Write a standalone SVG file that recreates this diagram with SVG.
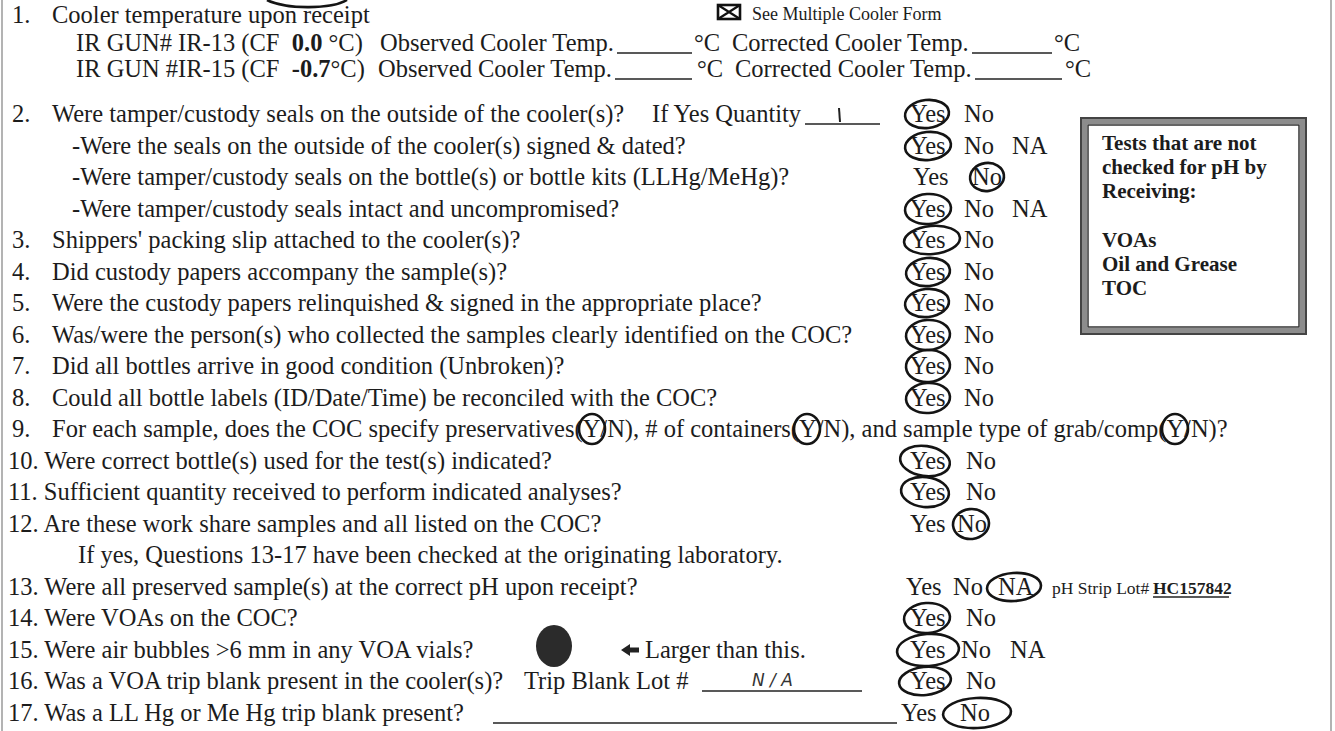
<svg xmlns="http://www.w3.org/2000/svg" width="1335" height="731" viewBox="0 0 1335 731">
<style>
text{font-family:"Liberation Serif","Times New Roman",serif;font-size:24.5px;fill:#1c1c1c;white-space:pre}
.b{font-weight:bold}
.sm{font-size:17.5px}
.note{font-size:18px}
.bx{font-size:21px;font-weight:bold}
.hw{font-family:"DejaVu Sans",sans-serif;font-size:17px;font-style:italic;fill:#333}
.c{fill:none;stroke:#141414;stroke-width:2.6}
.ul{stroke:#222;stroke-width:1.3;fill:none}
.bd{stroke:#9a9a9a;stroke-width:1.5}
</style>
<rect width="1335" height="731" fill="#fff"/>
<line class="bd" x1="2" y1="0" x2="2" y2="731"/>
<line class="bd" x1="1331" y1="0" x2="1331" y2="731"/>
<path class="c" d="M267,0 C285,9 330,10 347,0"/>

<g id="q1">
<text x="12" y="23">1.</text><text x="52" y="23">Cooler temperature upon receipt</text>
<rect x="718" y="5" width="22" height="14" fill="none" stroke="#111" stroke-width="2.6"/>
<path d="M718,5 L740,19 M740,5 L718,19" stroke="#111" stroke-width="2.2"/>
<text class="note" x="752" y="20">See Multiple Cooler Form</text>
<text x="76" y="51">IR GUN# IR-13 (CF  <tspan class="b">0.0</tspan> °C)</text>
<text x="380" y="51">Observed Cooler Temp.</text><line class="ul" x1="617" y1="53" x2="692" y2="53"/><text x="694" y="51">°C</text>
<text x="732" y="51">Corrected Cooler Temp.</text><line class="ul" x1="972" y1="53" x2="1052" y2="53"/><text x="1054" y="51">°C</text>
<text x="76" y="77">IR GUN #IR-15 (CF  <tspan class="b">-0.7</tspan>°C)</text>
<text x="378" y="77">Observed Cooler Temp.</text><line class="ul" x1="615" y1="79" x2="692" y2="79"/><text x="697" y="77">°C</text>
<text x="735" y="77">Corrected Cooler Temp.</text><line class="ul" x1="975" y1="79" x2="1062" y2="79"/><text x="1065" y="77">°C</text>
</g>

<g id="box">
<rect x="1081" y="118" width="225" height="216" fill="none" stroke="#444" stroke-width="2"/>
<rect x="1084.5" y="121.5" width="218" height="209" fill="none" stroke="#8c8c8c" stroke-width="5"/>
<rect x="1088" y="125" width="211" height="202" fill="none" stroke="#333" stroke-width="1.5"/>
<text class="bx" x="1102" y="150">Tests that are not</text>
<text class="bx" x="1102" y="174">checked for pH by</text>
<text class="bx" x="1102" y="198">Receiving:</text>
<text class="bx" x="1102" y="247">VOAs</text>
<text class="bx" x="1102" y="271">Oil and Grease</text>
<text class="bx" x="1102" y="295">TOC</text>
</g>

<g id="q2">
<text x="12" y="122">2.</text><text x="52" y="122">Were tamper/custody seals on the outside of the cooler(s)?</text>
<text x="652" y="122">If Yes Quantity</text><line class="ul" x1="805" y1="124" x2="880" y2="124"/>
<path d="M839,108 L840,122" stroke="#222" stroke-width="2" fill="none"/>
<text x="910" y="122">Yes</text><text x="964" y="122">No</text>
<ellipse class="c" cx="927" cy="114" rx="22" ry="14" transform="rotate(-6 927 114)"/>
<text x="72" y="154">-Were the seals on the outside of the cooler(s) signed &amp; dated?</text>
<text x="910" y="154">Yes</text><text x="964" y="154">No</text><text x="1012" y="154">NA</text>
<ellipse class="c" cx="928" cy="146" rx="23" ry="14" transform="rotate(-6 928 146)"/>
<text x="72" y="185">-Were tamper/custody seals on the bottle(s) or bottle kits (LLHg/MeHg)?</text>
<text x="913" y="185">Yes</text><text x="972" y="185">No</text>
<ellipse class="c" cx="987" cy="177" rx="17" ry="14" transform="rotate(-8 987 177)"/>
<text x="72" y="217">-Were tamper/custody seals intact and uncompromised?</text>
<text x="910" y="217">Yes</text><text x="964" y="217">No</text><text x="1012" y="217">NA</text>
<ellipse class="c" cx="928" cy="209" rx="23" ry="15" transform="rotate(-4 928 209)"/>
</g>

<g id="q3">
<text x="12" y="248">3.</text><text x="52" y="248">Shippers' packing slip attached to the cooler(s)?</text>
<text x="910" y="248">Yes</text><text x="964" y="248">No</text>
<ellipse class="c" cx="932" cy="240" rx="28" ry="14" transform="rotate(-5 932 240)"/>
</g>
<g id="q4">
<text x="12" y="280">4.</text><text x="52" y="280">Did custody papers accompany the sample(s)?</text>
<text x="910" y="280">Yes</text><text x="964" y="280">No</text>
<ellipse class="c" cx="928" cy="272" rx="22" ry="14" transform="rotate(-6 928 272)"/>
</g>
<g id="q5">
<text x="12" y="311">5.</text><text x="52" y="311">Were the custody papers relinquished &amp; signed in the appropriate place?</text>
<text x="910" y="311">Yes</text><text x="964" y="311">No</text>
<ellipse class="c" cx="927" cy="303" rx="22" ry="14" transform="rotate(-6 927 303)"/>
</g>
<g id="q6">
<text x="12" y="343">6.</text><text x="52" y="343">Was/were the person(s) who collected the samples clearly identified on the COC?</text>
<text x="910" y="343">Yes</text><text x="964" y="343">No</text>
<ellipse class="c" cx="928" cy="335" rx="22" ry="15" transform="rotate(-4 928 335)"/>
</g>
<g id="q7">
<text x="12" y="374">7.</text><text x="52" y="374">Did all bottles arrive in good condition (Unbroken)?</text>
<text x="910" y="374">Yes</text><text x="964" y="374">No</text>
<ellipse class="c" cx="928" cy="366" rx="22" ry="16" transform="rotate(-4 928 366)"/>
</g>
<g id="q8">
<text x="12" y="406">8.</text><text x="52" y="406">Could all bottle labels (ID/Date/Time) be reconciled with the COC?</text>
<text x="910" y="406">Yes</text><text x="964" y="406">No</text>
<ellipse class="c" cx="928" cy="398" rx="22" ry="15" transform="rotate(-4 928 398)"/>
</g>
<g id="q9">
<text x="12" y="437">9.</text><text x="52" y="437">For each sample, does the COC specify preservatives(Y/N), # of containers(Y/N), and sample type of grab/comp(Y/N)?</text>
<ellipse class="c" cx="592" cy="429" rx="13" ry="15"/>
<ellipse class="c" cx="807" cy="429" rx="13" ry="15"/>
<ellipse class="c" cx="1175" cy="429" rx="13" ry="15"/>
</g>
<g id="q10">
<text x="8" y="469">10. Were correct bottle(s) used for the test(s) indicated?</text>
<text x="910" y="469">Yes</text><text x="966" y="469">No</text>
<ellipse class="c" cx="925" cy="461" rx="25" ry="15" transform="rotate(8 925 461)"/>
</g>
<g id="q11">
<text x="8" y="500">11. Sufficient quantity received to perform indicated analyses?</text>
<text x="910" y="500">Yes</text><text x="966" y="500">No</text>
<ellipse class="c" cx="925" cy="492" rx="24" ry="15" transform="rotate(6 925 492)"/>
</g>
<g id="q12">
<text x="8" y="532">12. Are these work share samples and all listed on the COC?</text>
<text x="910" y="532">Yes</text><text x="957" y="532">No</text>
<ellipse class="c" cx="971" cy="524" rx="18" ry="15" transform="rotate(-6 971 524)"/>
<text x="78" y="563">If yes, Questions 13-17 have been checked at the originating laboratory.</text>
</g>
<g id="q13">
<text x="8" y="595">13. Were all preserved sample(s) at the correct pH upon receipt?</text>
<text x="906" y="595">Yes</text><text x="953" y="595">No</text><text x="998" y="595">NA</text>
<ellipse class="c" cx="1014" cy="587" rx="27" ry="14" transform="rotate(-4 1014 587)"/>
<text class="sm" x="1052" y="594">pH Strip Lot#</text>
<text class="sm b" x="1153" y="594">HC157842</text><line class="ul" x1="1153" y1="597" x2="1229" y2="597" stroke-width="1.6"/>
</g>
<g id="q14">
<text x="8" y="626">14. Were VOAs on the COC?</text>
<text x="910" y="626">Yes</text><text x="966" y="626">No</text>
<ellipse class="c" cx="927" cy="618" rx="23" ry="15" transform="rotate(-4 927 618)"/>
</g>
<g id="q15">
<text x="8" y="658">15. Were air bubbles &gt;6 mm in any VOA vials?</text>
<ellipse cx="554" cy="646" rx="18" ry="21" fill="#2b2b2b"/>
<path d="M621,650 L630,644 L630,647.5 L639,647.5 L639,652.5 L630,652.5 L630,656 Z" fill="#222"/>
<text x="645" y="658">Larger than this.</text>
<text x="910" y="658">Yes</text><text x="961" y="658">No</text><text x="1010" y="658">NA</text>
<ellipse class="c" cx="928" cy="650" rx="31" ry="16" transform="rotate(-4 928 650)"/>
</g>
<g id="q16">
<text x="8" y="689">16. Was a VOA trip blank present in the cooler(s)?</text>
<text x="524" y="689">Trip Blank Lot #</text><line class="ul" x1="702" y1="691" x2="862" y2="691"/>
<text class="hw" x="752" y="686">N / A</text>
<text x="910" y="689">Yes</text><text x="966" y="689">No</text>
<ellipse class="c" cx="925" cy="681" rx="26" ry="14" transform="rotate(-6 925 681)"/>
</g>
<g id="q17">
<text x="8" y="721">17. Was a LL Hg or Me Hg trip blank present?</text>
<line class="ul" x1="493" y1="723" x2="897" y2="723"/>
<text x="901" y="721">Yes</text><text x="960" y="721">No</text>
<ellipse class="c" cx="977" cy="713" rx="34" ry="15" transform="rotate(-3 977 713)"/>
</g>
</svg>
